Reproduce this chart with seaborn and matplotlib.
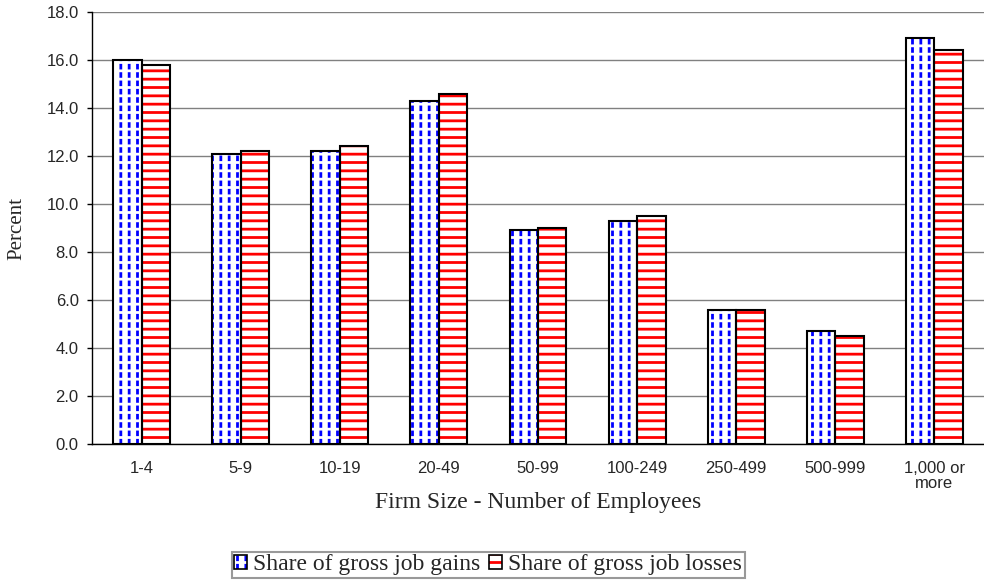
import matplotlib
matplotlib.use("Agg")
import pandas as pd
import matplotlib.pyplot as plt
import seaborn as sns
from matplotlib.patches import Patch, Rectangle
from matplotlib.legend_handler import HandlerTuple

# Data
sizes = ["1-4", "5-9", "10-19", "20-49", "50-99", "100-249", "250-499", "500-999", "1,000 or\nmore"]
gains = [16.0, 12.1, 12.2, 14.3, 8.9, 9.3, 5.6, 4.7, 16.9]
losses = [15.8, 12.2, 12.4, 14.6, 9.0, 9.5, 5.6, 4.5, 16.4]
series = ["Share of gross job gains", "Share of gross job losses"]
yticks = [0, 2, 4, 6, 8, 10, 12, 14, 16, 18]

df = pd.DataFrame({
    "size": sizes * 2,
    "value": gains + losses,
    "series": [series[0]] * len(sizes) + [series[1]] * len(sizes),
})

sns.set_style("white")
plt.rcParams["hatch.linewidth"] = 2.0
sans = ["Liberation Sans", "DejaVu Sans"]
serif = ["Liberation Serif", "DejaVu Serif"]

fig = plt.figure(figsize=(9.84, 5.84), dpi=100)
ax = fig.add_axes([0.0935, 0.2397, 0.9065, 0.7397])

sns.barplot(data=df, x="size", y="value", hue="series", hue_order=series,
            palette=["white", "white"], saturation=1, width=0.575, gap=0,
            legend=False, ax=ax, zorder=2)

bars = list(ax.patches)
n = len(sizes)
for i, p in enumerate(bars):
    x, y = p.get_x(), p.get_y()
    w, h = p.get_width(), p.get_height()
    p.set_linewidth(0)
    if i < n:
        # blue dashed vertical lines: vertical hatch cut by white horizontal hatch
        p.set_hatch("||")
        p.set_edgecolor("#0000ff")
        ax.add_patch(Rectangle((x, y), w, h, fill=False, hatch="--",
                               edgecolor="white", linewidth=0, zorder=2.1))
    else:
        p.set_hatch("--")
        p.set_edgecolor("#ff0000")
    ax.add_patch(Rectangle((x, y), w, h, fill=False, edgecolor="black",
                           linewidth=1.5, zorder=2.2))

ax.set_xlim(-0.5, n - 0.5)
ax.set_ylim(0, 18)
ax.set_yticks(yticks)
ax.set_yticklabels([f"{v:.1f}" for v in yticks], fontfamily=sans, fontsize=12)
ax.set_xticks(range(n))
ax.set_xticklabels(sizes, fontfamily=sans, fontsize=12, linespacing=1.0)
ax.set_xticks([i - 0.5 for i in range(n + 1)], minor=True)
ax.tick_params(axis="x", which="major", length=0, pad=12)
ax.tick_params(axis="x", which="minor", length=3.6, width=1, color="black", direction="out")
ax.tick_params(axis="y", length=3.6, width=1, color="black", direction="out", pad=6, left=True)

ax.yaxis.grid(True, color="#808080", linewidth=1)
ax.set_axisbelow(True)
for s in ["top", "right"]:
    ax.spines[s].set_visible(False)
for s in ["left", "bottom"]:
    ax.spines[s].set_color("black")
    ax.spines[s].set_linewidth(1)

ax.set_xlabel("Firm Size - Number of Employees", fontfamily=serif, fontsize=17)
ax.set_ylabel("Percent", fontfamily=serif, fontsize=15)
ax.xaxis.set_label_coords(0.5, -0.11)
ax.yaxis.set_label_coords(-0.074, 0.5)
ax.xaxis.label.set_va("top")

outline = dict(facecolor="none", edgecolor="black", linewidth=1.2)
h_gain = (Patch(facecolor="white", edgecolor="#0000ff", hatch="||", linewidth=0),
          Patch(facecolor="none", edgecolor="white", hatch="--", linewidth=0),
          Patch(**outline))
h_loss = (Patch(facecolor="white", edgecolor="#ff0000", hatch="--", linewidth=0),
          Patch(**outline))
leg = fig.legend([h_gain, h_loss], series, loc="center", bbox_to_anchor=(0.496, 0.033),
                 ncol=2, frameon=True, fancybox=False, edgecolor="#808080",
                 prop={"family": serif, "size": 17}, handlelength=0.55,
                 handleheight=0.55, handletextpad=0.25, columnspacing=0.4,
                 borderpad=0.1, borderaxespad=0,
                 handler_map={tuple: HandlerTuple(ndivide=1, pad=0)})
leg.get_frame().set_linewidth(1.5)

fig.savefig("out.png", dpi=100)
